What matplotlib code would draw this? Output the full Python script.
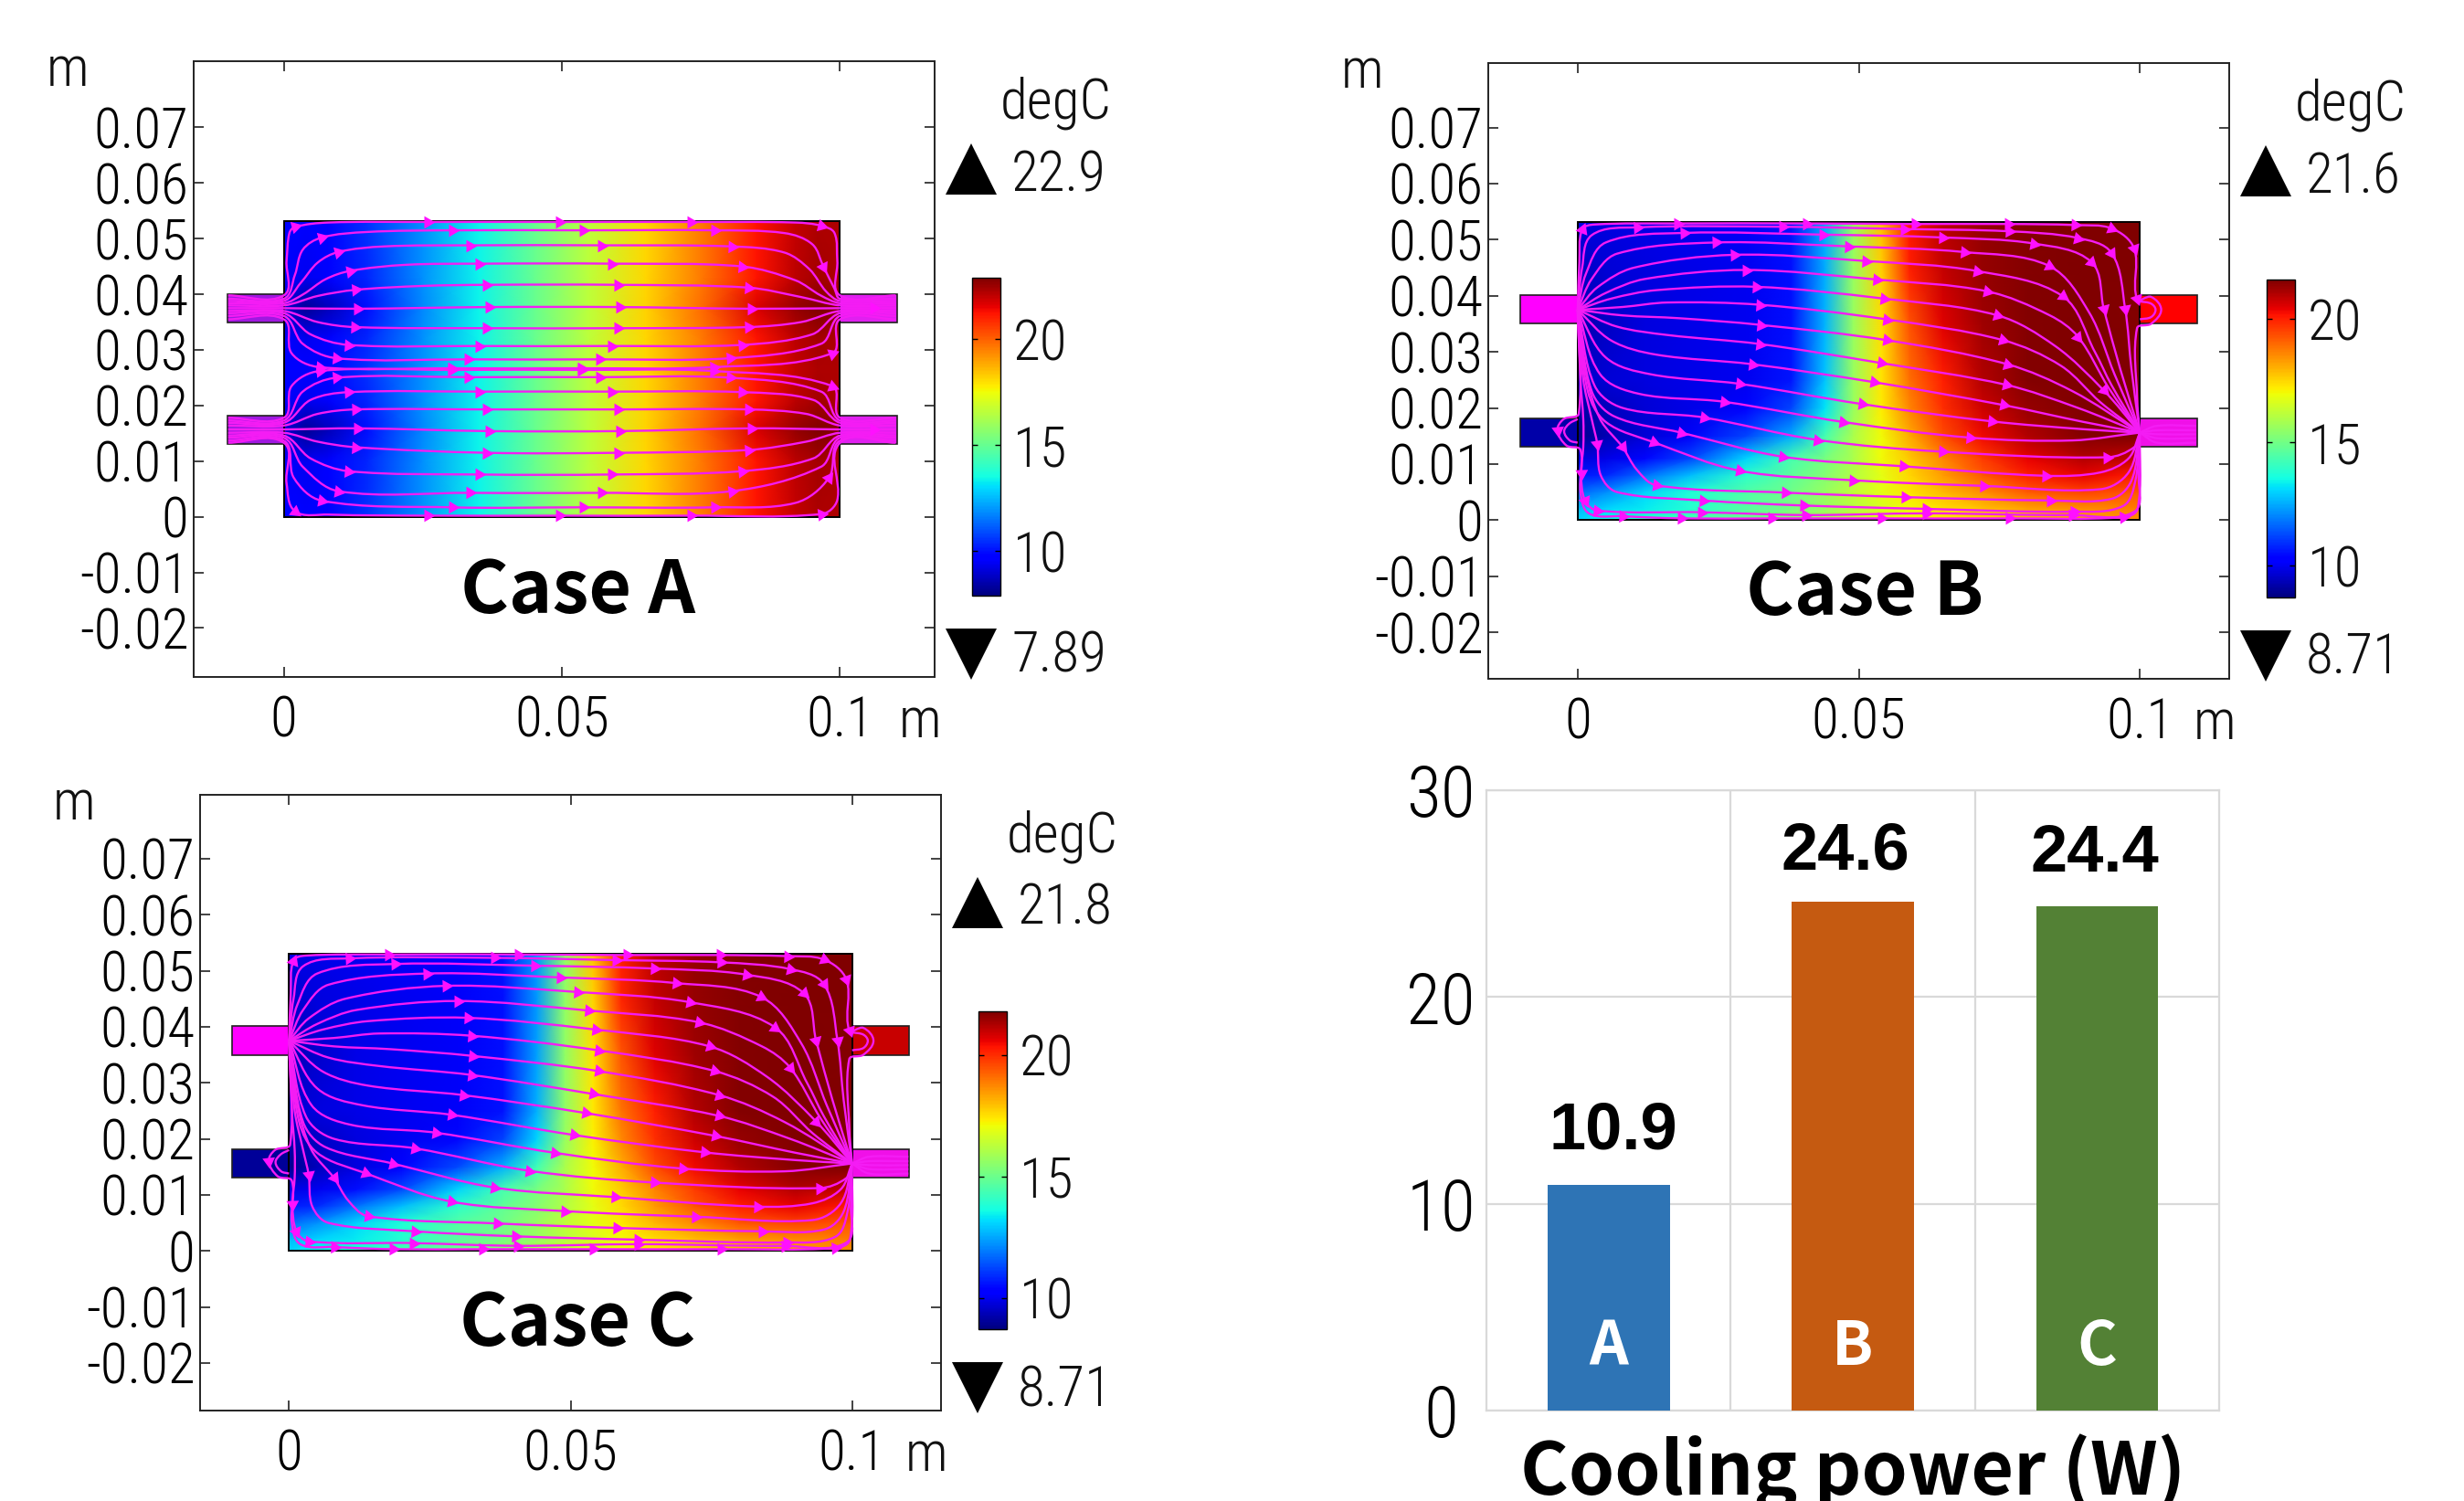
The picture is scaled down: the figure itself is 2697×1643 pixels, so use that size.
import numpy as np
import matplotlib
matplotlib.use('Agg')
import matplotlib.pyplot as plt
from matplotlib import font_manager
from matplotlib.path import Path
from matplotlib.patches import PathPatch, Rectangle

W, H = 2697, 1643
installed = {f.name for f in font_manager.fontManager.ttflist}
LIGHT = next(n for n in ['Roboto Condensed', 'Barlow Condensed', 'Lato', 'DejaVu Sans'] if n in installed)
LIGHT_FONT = dict(family=LIGHT, fontweight='light')
BOLD = 'Noto Sans CJK SC'
MAGENTA = '#f41cf4'

# temperature field, rows are y stations, columns x stations (mm, degC)
A_X = [0, 4, 8, 15, 25, 35, 45, 55, 65, 75, 85, 92, 96, 100]
A_Y = [0, 10, 15.5, 21, 26.5, 32, 37.5, 43, 53]
A_T = [
    [9.6, 9.6, 9.8, 10.5, 11.9, 13.4, 15.0, 16.6, 18.1, 19.6, 21.2, 22.0, 22.3, 22.3],
    [9.6, 9.4, 9.6, 10.3, 11.9, 13.4, 15.0, 16.6, 18.1, 19.6, 21.2, 22.1, 22.4, 22.3],
    [9.0, 8.2, 8.7, 10.0, 11.8, 13.4, 15.0, 16.6, 18.2, 19.8, 21.7, 22.6, 22.9, 22.8],
    [9.6, 9.4, 9.6, 10.3, 11.9, 13.4, 15.0, 16.6, 18.1, 19.6, 21.2, 22.1, 22.4, 22.3],
    [9.6, 9.6, 9.8, 10.5, 11.9, 13.4, 15.0, 16.6, 18.1, 19.6, 21.2, 22.0, 22.3, 22.3],
    [9.6, 9.4, 9.6, 10.3, 11.9, 13.4, 15.0, 16.6, 18.1, 19.6, 21.2, 22.1, 22.4, 22.3],
    [9.0, 8.2, 8.7, 10.0, 11.8, 13.4, 15.0, 16.6, 18.2, 19.8, 21.7, 22.6, 22.9, 22.8],
    [9.6, 9.4, 9.6, 10.3, 11.9, 13.4, 15.0, 16.6, 18.1, 19.6, 21.2, 22.1, 22.4, 22.3],
    [9.6, 9.6, 9.8, 10.5, 11.9, 13.4, 15.0, 16.6, 18.1, 19.6, 21.2, 22.0, 22.3, 22.3],
]

B_X = [0, 5, 12, 20, 30, 38, 44, 49, 54, 59, 65, 72, 80, 90, 100]
B_Y = [0, 2, 5, 8, 11, 15, 20, 25, 35, 45, 53]
B_T = [
    [13.0, 13.4, 13.9, 14.4, 15.0, 15.5, 15.9, 16.3, 16.7, 17.0, 17.3, 17.6, 18.0, 18.3, 18.5],
    [12.6, 13.0, 13.3, 13.8, 14.6, 15.1, 15.6, 16.1, 16.6, 17.0, 17.4, 17.8, 18.2, 18.5, 18.7],
    [11.6, 12.1, 13.0, 13.7, 14.5, 15.0, 15.6, 16.2, 16.8, 17.3, 17.9, 18.5, 19.2, 19.5, 19.2],
    [10.6, 10.8, 11.7, 12.7, 13.9, 14.7, 15.3, 16.0, 16.8, 17.5, 18.3, 19.2, 20.0, 20.4, 20.0],
    [9.8, 9.9, 10.4, 11.2, 13.0, 14.3, 15.1, 15.9, 17.0, 17.7, 18.6, 19.6, 20.4, 21.0, 20.8],
    [8.9, 9.3, 9.7, 10.1, 11.2, 12.5, 14.3, 15.9, 17.0, 18.1, 19.4, 20.3, 21.0, 21.5, 21.6],
    [9.2, 9.4, 9.7, 9.9, 10.3, 11.2, 13.2, 15.6, 17.2, 18.6, 19.8, 20.7, 21.3, 21.6, 21.6],
    [9.6, 9.7, 9.8, 9.9, 10.0, 10.6, 12.8, 15.6, 17.3, 18.9, 20.0, 21.0, 21.5, 21.6, 21.6],
    [9.2, 9.5, 9.8, 9.9, 10.0, 10.5, 12.6, 15.6, 17.4, 19.3, 20.5, 21.2, 21.5, 21.6, 21.5],
    [9.5, 9.7, 9.8, 9.9, 10.0, 10.5, 12.5, 15.6, 17.6, 20.0, 20.8, 21.3, 21.5, 21.6, 21.6],
    [9.8, 9.8, 9.9, 10.0, 10.1, 10.6, 12.5, 15.6, 17.8, 20.1, 20.9, 21.3, 21.5, 21.6, 21.6],
]
C_T = [
    [13.1, 13.5, 14.0, 14.5, 15.1, 15.6, 16.0, 16.4, 16.8, 17.1, 17.5, 17.8, 18.2, 18.5, 18.7],
    [12.7, 13.1, 13.4, 13.9, 14.7, 15.2, 15.7, 16.2, 16.7, 17.1, 17.6, 18.0, 18.4, 18.7, 18.9],
    [11.7, 12.2, 13.1, 13.8, 14.6, 15.1, 15.7, 16.3, 16.9, 17.4, 18.1, 18.7, 19.4, 19.7, 19.4],
    [10.7, 10.9, 11.8, 12.8, 14.0, 14.8, 15.4, 16.1, 16.9, 17.6, 18.5, 19.4, 20.2, 20.6, 20.2],
    [9.9, 10.0, 10.5, 11.3, 13.1, 14.4, 15.2, 16.0, 17.1, 17.8, 18.8, 19.8, 20.6, 21.2, 21.0],
    [8.9, 9.4, 9.8, 10.2, 11.3, 12.6, 14.3, 16.0, 17.1, 18.2, 19.6, 20.5, 21.2, 21.7, 21.8],
    [9.3, 9.5, 9.8, 10.0, 10.4, 11.2, 13.1, 15.7, 17.3, 18.7, 20.0, 20.9, 21.5, 21.8, 21.8],
    [9.7, 9.8, 9.9, 10.0, 10.1, 10.6, 12.6, 15.6, 17.4, 19.0, 20.2, 21.2, 21.7, 21.8, 21.8],
    [9.3, 9.6, 9.9, 10.0, 10.1, 10.5, 12.4, 15.6, 17.5, 19.4, 20.7, 21.4, 21.7, 21.8, 21.7],
    [9.6, 9.8, 9.9, 10.0, 10.1, 10.5, 12.3, 15.6, 17.7, 20.1, 21.0, 21.5, 21.7, 21.8, 21.8],
    [9.9, 9.9, 10.0, 10.1, 10.2, 10.6, 12.3, 15.6, 17.9, 20.2, 21.1, 21.5, 21.7, 21.8, 21.8],
]

# streamlines in mm, a third element marks an arrow
A_LINES = [
    [(-10, 39.8), (0, 39.8), (0.5, 46), (1, 51), (2, 52.1, 1), (8, 52.9), (25.9, 53, 1), (49.5, 53, 1), (73.2, 53, 1), (92, 52.9), (96.7, 52.3, 1), (99, 51), (99.5, 46), (100, 39.8), (110, 39.8)],
    [(-10, 39.2), (0, 39.2), (2, 43.5), (3.4, 48), (6.8, 50.2, 1), (15, 51.2), (30.2, 51.5, 1), (53.8, 51.5, 1), (77.4, 51.5, 1), (90, 51), (95, 49), (97, 45, 1), (99, 41), (100, 39.2), (110, 39.2)],
    [(-10, 38.8), (0, 38.8), (3, 42), (6.1, 45.7), (9.8, 47.6, 1), (18, 48.6), (33.4, 48.8, 1), (57, 48.8, 1), (80.5, 48.6, 1), (90, 47.5), (94.5, 44.5), (97.5, 40.5), (100, 38.8), (110, 38.8)],
    [(-10, 38.4), (0, 38.4), (3.5, 40), (7.5, 42.7), (11.9, 44.2, 1), (22, 45.3), (35.1, 45.5, 1), (58.9, 45.5, 1), (82.4, 45, 1), (92, 42.5), (96.5, 39.8), (100, 38.4), (110, 38.4)],
    [(-10, 38), (0, 38), (6.1, 39.7), (12.9, 40.8, 1), (25, 41.5), (36.4, 41.7, 1), (60, 41.7, 1), (83.5, 41.2, 1), (93, 39.5), (100, 38), (110, 38)],
    [(-10, 37.5), (0, 37.5), (13.2, 37.4, 1), (36.8, 37.7, 1), (60.4, 37.7, 1), (84, 37.4, 1), (100, 37.5), (106, 37.5, 1), (110, 37.5)],
    [(-10, 37), (0, 37), (6.1, 35), (12.7, 34.1, 1), (36.4, 33.9, 1), (60, 33.9, 1), (83.5, 34.1, 1), (93, 35), (100, 37), (110, 37)],
    [(-10, 36.6), (0, 36.6), (4.8, 32.8), (11.6, 30.9, 1), (35.1, 30.7, 1), (58.9, 30.7, 1), (82.4, 30.9, 1), (95, 32.8), (100, 36.6), (110, 36.6)],
    [(-10, 36.1), (0, 36.1), (3.4, 31.1), (9.5, 28.5, 1), (33.1, 28.3, 1), (56.7, 28.3, 1), (80.2, 28.5, 1), (96.6, 31.1), (100, 36.1), (110, 36.1)],
    [(-10, 35.5), (0, 35.5), (1.4, 29.4), (6.4, 26.9, 1), (30.1, 26.7, 1), (53.5, 26.7, 1), (77.2, 26.9, 1), (98.6, 29.4, 1), (100, 35.5), (110, 35.5)],
    [(-10, 17.8), (0, 17.8), (1.4, 23.5), (6.4, 26.2, 1), (30.1, 26.4, 1), (53.5, 26.4, 1), (77.2, 26.2, 1), (98.6, 23.5, 1), (100, 17.8), (110, 17.8)],
    [(-10, 17.3), (0, 17.3), (3.4, 22.5), (9.5, 25, 1), (33.1, 25.1, 1), (56.7, 25.1, 1), (80.2, 25, 1), (96.6, 22.5), (100, 17.3), (110, 17.3)],
    [(-10, 16.9), (0, 16.9), (4.8, 21), (11.6, 22.4, 1), (35.1, 22.5, 1), (58.9, 22.5, 1), (82.4, 22.4, 1), (95.2, 21), (100, 16.9), (110, 16.9)],
    [(-10, 16.4), (0, 16.4), (6.1, 18.5), (12.9, 19.3, 1), (36.4, 19.3, 1), (60, 19.3, 1), (83.5, 19.3, 1), (93.9, 18.5), (100, 16.4), (110, 16.4)],
    [(-10, 15.7), (0, 15.7), (13.2, 15.9, 1), (36.8, 15.4, 1), (60.4, 15.4, 1), (84, 15.9, 1), (100, 15.7), (106, 15.7, 1), (110, 15.7)],
    [(-10, 15.1), (0, 15.1), (6.1, 13.5), (12.9, 12.5, 1), (36.4, 11.5, 1), (60, 11.5, 1), (83.5, 12, 1), (93.9, 13.5), (100, 15.1), (110, 15.1)],
    [(-10, 14.6), (0, 14.6), (4.8, 10.5), (11.6, 8.2, 1), (35.1, 7.6, 1), (58.9, 7.6, 1), (82.4, 8.2, 1), (95.2, 10.5), (100, 14.6), (110, 14.6)],
    [(-10, 14.2), (0, 14.2), (3.4, 9), (9.8, 4.6, 1), (33.4, 4.3, 1), (57, 4.3, 1), (80.5, 4.6, 1), (96.6, 9), (100, 14.2), (110, 14.2)],
    [(-10, 13.7), (0, 13.7), (1.8, 7), (6.8, 2.9, 1), (30.2, 1.7, 1), (53.8, 1.7, 1), (77.4, 1.7, 1), (92, 2.5), (98, 7, 1), (100, 13.7), (110, 13.7)],
    [(-10, 13.3), (0, 13.3), (0.5, 6), (2, 1, 1), (8, 0.4), (25.9, 0.2, 1), (49.5, 0.2, 1), (73.2, 0.2, 1), (96.7, 0.5, 1), (99.5, 3), (100, 13.3), (110, 13.3)],
]

# cases B and C share nearly the same flow pattern
B_LINES = [
    [(0, 37.5), (0.3, 46), (0.8, 51.8, 1), (3, 52.7), (17.7, 52.9, 1), (40.6, 52.9, 1), (60, 52.8, 1), (76.5, 52.8, 1), (88.5, 52.6, 1), (95, 52, 1), (99, 48.4, 1), (99.5, 39.4, 1), (102, 39.8), (103.8, 37.5), (102, 35), (99.5, 34.2), (99.5, 22), (100, 15.6)],
    [(0, 37.5), (0.8, 45), (2.5, 50.8), (10.6, 52.2, 1), (36.5, 52.3, 1), (58, 51.9, 1), (76.7, 51.5, 1), (89, 50.3, 1), (95, 47.6, 1), (97.4, 37.6, 1), (98.5, 27), (100, 15.6)],
    [(0, 37.5), (1.5, 44), (5, 49.5), (18.8, 51.2, 1), (43.6, 50.9, 1), (64.8, 50.4, 1), (81.2, 49.3, 1), (91.4, 46, 1), (93.6, 37.6, 1), (96.5, 27), (100, 15.6)],
    [(0, 37.5), (2.5, 43), (7, 47.5), (24.5, 49.5, 1), (48.2, 48.8, 1), (68.7, 47.8, 1), (83.9, 45.3, 1), (91, 37), (95.5, 26), (100, 15.6)],
    [(0, 37.5), (3.5, 41.5), (10, 45), (27.8, 47.3, 1), (51.2, 46.2, 1), (71.1, 44.4, 1), (86.3, 39.9, 1), (92, 30), (95, 24), (100, 15.6)],
    [(0, 37.5), (5, 40.5), (12, 43), (30, 44.6, 1), (53.1, 42.9, 1), (72.8, 40.8, 1), (84, 36.5), (89, 32.7, 1), (94.5, 23.5), (100, 15.6)],
    [(0, 37.5), (6, 39.5), (14, 41), (31.7, 41.6, 1), (54.4, 39.5, 1), (74.7, 36.5, 1), (85, 31), (93.6, 23.1, 1), (100, 15.6)],
    [(0, 37.5), (8, 38), (16, 38.8), (32.4, 38.4, 1), (54.9, 35.8, 1), (75.6, 32.1, 1), (86, 27.5), (93, 21), (100, 15.6)],
    [(0, 37.5), (8, 36.5), (18, 36), (32.6, 34.8, 1), (54.9, 32.1, 1), (76.4, 27.8, 1), (88, 23), (100, 15.6)],
    [(0, 37.5), (7, 34.5), (16, 33), (32.4, 31.4, 1), (54, 28, 1), (76.3, 24.1, 1), (89, 20), (100, 15.6)],
    [(0, 37.5), (6, 32), (14, 29.5), (31, 27.8, 1), (52.7, 24.6, 1), (75.8, 20.5, 1), (90, 17.5), (100, 15.6)],
    [(0, 37.5), (5, 29), (13, 26), (28.8, 24.3, 1), (50.5, 20.7, 1), (73.7, 17.6, 1), (90, 16.2), (100, 15.6)],
    [(0, 37.5), (4, 26), (11, 22.5), (26, 21.1, 1), (47.2, 17.5, 1), (69.8, 14.7, 1), (88, 14.2), (100, 15.6)],
    [(0, 37.5), (3, 24), (8, 20), (22.4, 18.3, 1), (42.6, 14.3, 1), (64.8, 12.2, 1), (94.2, 11.2, 1), (99, 13), (100, 15.6)],
    [(0, 37.5), (2.5, 23), (6.5, 18.5), (18.4, 15.6, 1), (36.5, 11.3, 1), (57.9, 9.6, 1), (83.2, 7.9, 1), (93, 8.5), (98, 11), (100, 15.6)],
    [(0, 37.5), (1.8, 23), (5, 17.5), (13.5, 13.9, 1), (28.8, 8.8, 1), (49, 7.1, 1), (72.2, 6.1, 1), (93, 5.5), (98, 8.5), (100, 15.6)],
    [(0, 37.5), (1.5, 26), (4, 18), (8, 13, 1), (10.5, 9), (14, 6.2, 1), (36.9, 4.9, 1), (58.2, 4.1, 1), (84, 3.5, 1), (95, 3.8), (98.5, 7), (100, 15.6)],
    [(0, 37.5), (1, 25), (2.5, 18), (3.5, 13.5, 1), (4.1, 8), (7, 5), (22.3, 3.5, 1), (40.2, 2.6, 1), (62, 2, 1), (88.3, 1.5, 1), (97, 2.5), (99.2, 7), (100, 15.6)],
    [(0, 37.5), (0.5, 25), (1, 18), (1, 13), (0.6, 8.4, 1), (1.3, 3.5, 1), (3.5, 1.7, 1), (22, 1.4, 1), (40.5, 0.9, 1), (62, 1.2, 1), (88, 0.9, 1), (99, 1.5), (99.8, 8), (100, 15.6)],
    [(0, 37.5), (0.2, 19), (-2.5, 18), (-3.6, 16, 1), (-2, 13.3), (0.5, 12.5), (0.5, 5), (2, 1.2), (8, 0.7, 1), (18.4, 0.3, 1), (34.4, 0.3, 1), (54, 0.3, 1), (76.7, 0.3, 1), (97, 0.5, 1), (99.6, 2), (100, 15.6)],
    [(100, 39), (102, 38.6), (102.8, 37.5), (102, 36.2), (100, 35.8)],
    [(0, 18), (-1.5, 17.2), (-2.4, 15.8), (-1.4, 14.2), (0, 13.8)],
    [(100, 15.6), (103, 13.8), (110, 13.8)],
    [(100, 15.6), (103, 14.6), (110, 14.6)],
    [(100, 15.6), (103, 15.3), (110, 15.3)],
    [(100, 15.6), (103, 16), (110, 16)],
    [(100, 15.6), (103, 16.8), (110, 16.8)],
]

Y_TICKS = [-0.02, -0.01, 0, 0.01, 0.02, 0.03, 0.04, 0.05, 0.06, 0.07]
Y_TICK_LABELS = ['-0.02', '-0.01', '0', '0.01', '0.02', '0.03', '0.04', '0.05', '0.06', '0.07']
X_TICKS = [0, 0.05, 0.1]
X_TICK_LABELS = ['0', '0.05', '0.1']

CASE_NAMES = ['Case A', 'Case B', 'Case C']
CASE_NAME_DX = [15, 7, 8]
T_MAX = [22.9, 21.6, 21.8]
T_MIN = [7.89, 8.71, 8.71]
CBAR_TICKS = [10, 15, 20]

# channel fills: top left, bottom left, top right, bottom right
A_CHANNELS = ['#a018e0', '#a018e0', '#e020f0', '#e020f0']
B_CHANNELS = ['#ff00ff', '#0000a8', '#ff0000', '#f010e8']
C_CHANNELS = ['#ff00ff', '#000098', '#c80000', '#f010e8']

BAR_NAMES = ['A', 'B', 'C']
COOLING_POWER = [10.9, 24.6, 24.4]
BAR_COLORS = ['#2e74b5', '#c55a11', '#538135']


def px_axes(fig, left, top, width, height):
    return fig.add_axes([left / W, 1 - (top + height) / H, width / W, height / H])


def px_text(fig, x, y, s, **kw):
    return fig.text(x / W, 1 - y / H, s, **kw)


def smooth_path(pts):
    # bezier through the read points, tangents from the neighbours
    pts = np.array(pts, dtype=float)
    n = len(pts)
    tang = np.zeros_like(pts)
    for i in range(n):
        d = pts[min(i + 1, n - 1)] - pts[max(i - 1, 0)]
        tang[i] = d / max(np.hypot(*d), 1e-9)
    verts = [pts[0]]
    codes = [Path.MOVETO]
    for i in range(n - 1):
        seg = np.hypot(*(pts[i + 1] - pts[i])) / 3
        verts += [pts[i] + tang[i] * seg, pts[i + 1] - tang[i + 1] * seg, pts[i + 1]]
        codes += [Path.CURVE4] * 3
    return Path(verts, codes), tang


def draw_lines(ax, lines):
    for line in lines:
        pts = [(p[0] / 1000, p[1] / 1000) for p in line]
        path, tang = smooth_path(pts)
        ax.add_patch(PathPatch(path, fc='none', ec=MAGENTA, lw=1.7, zorder=4))
        for i, p in enumerate(line):
            if len(p) == 3:
                heading = np.degrees(np.arctan2(tang[i][1], tang[i][0]))
                ax.plot(pts[i][0], pts[i][1], marker=(3, 0, heading - 90), ms=11.5,
                        color='#ff10ff', mew=0, zorder=5)


def draw_case(fig, left, top, xlim, ylim, x_mm, y_mm, temps, lines, channels, idx):
    ax = px_axes(fig, left, top, 811, 674)
    ax.set_xlim(xlim)
    ax.set_ylim(ylim)

    norm = plt.Normalize(T_MIN[idx], T_MAX[idx])
    xg, yg = np.meshgrid(np.array(x_mm) / 1000, np.array(y_mm) / 1000)
    mesh = ax.pcolormesh(xg, yg, np.array(temps), cmap='jet', norm=norm, shading='gouraud', zorder=1)

    ax.add_patch(Rectangle((0, 0), 0.1, 0.0531, fc='none', ec='black', lw=1.4, zorder=3))
    corners = [(-0.0102, 0.035), (-0.0102, 0.013), (0.1, 0.035), (0.1, 0.013)]
    for (cx, cy), col in zip(corners, channels):
        ax.add_patch(Rectangle((cx, cy), 0.0102, 0.0051, fc=col, ec='#202020', lw=1.2, zorder=2))

    draw_lines(ax, lines)

    ax.set_xticks(X_TICKS)
    ax.set_xticklabels(X_TICK_LABELS, fontsize=44, **LIGHT_FONT)
    ax.set_yticks(Y_TICKS)
    ax.set_yticklabels(Y_TICK_LABELS, fontsize=44, **LIGHT_FONT)
    ax.tick_params(direction='in', top=True, right=True, length=8, width=1.2, color='#222222')
    ax.tick_params(axis='x', pad=14)
    ax.tick_params(axis='y', pad=4)
    for s in ax.spines.values():
        s.set_linewidth(1.4)
        s.set_color('#222222')

    px_text(fig, left + 405 + CASE_NAME_DX[idx], top + 580, CASE_NAMES[idx], family=BOLD, fontweight='bold',
            fontsize=58, ha='center', va='center')

    # min/max legend and colour bar on the right
    txt = dict(fontsize=44, color='#111111', va='center', **LIGHT_FONT)
    px_text(fig, left + 944, top + 46, 'degC', ha='center', **txt)
    px_text(fig, left + 895, top + 125, '%g' % T_MAX[idx], ha='left', **txt)
    px_text(fig, left + 895, top + 652, '%g' % T_MIN[idx], ha='left', **txt)
    px_text(fig, left - 138, top + 10, 'm', ha='center', **txt)
    px_text(fig, left + 795, top + 723, 'm', ha='center', **txt)
    fig.add_artist(plt.Line2D([(left + 851) / W], [1 - (top + 118) / H], marker='^', ms=40, color='black',
                              mew=0, transform=fig.transFigure))
    fig.add_artist(plt.Line2D([(left + 851) / W], [1 - (top + 649) / H], marker='v', ms=40, color='black',
                              mew=0, transform=fig.transFigure))

    cax = px_axes(fig, left + 852, top + 237, 31, 348)
    cbar = fig.colorbar(mesh, cax=cax, ticks=CBAR_TICKS)
    cbar.outline.set_linewidth(1)
    cax.set_yticklabels([str(t) for t in CBAR_TICKS], fontsize=44, color='#111111', **LIGHT_FONT)
    cax.tick_params(direction='in', left=True, right=True, length=4, width=1, pad=10)
    return ax


fig = plt.figure(figsize=(W / 100, H / 100), dpi=100, facecolor='white')

draw_case(fig, 212, 67, (-0.0162, 0.117), (-0.0288, 0.0819), A_X, A_Y, A_T, A_LINES, A_CHANNELS, 0)
draw_case(fig, 1629, 69, (-0.0159, 0.1159), (-0.0283, 0.0815), B_X, B_Y, B_T, B_LINES, B_CHANNELS, 1)
draw_case(fig, 219, 870, (-0.0158, 0.1158), (-0.0285, 0.0814), B_X, B_Y, C_T, B_LINES, C_CHANNELS, 2)

# cooling power bars
ax = px_axes(fig, 1627, 865, 802, 679)
ax.bar(range(3), COOLING_POWER, width=0.5, color=BAR_COLORS, zorder=3)
ax.set_xlim(-0.5, 2.5)
ax.set_ylim(0, 30)
ax.set_xticks([0.5, 1.5])
ax.set_xticklabels([])
ax.set_yticks([0, 10, 20, 30])
ax.set_yticklabels(['0', '10', '20', '30'], fontsize=56, ha='center', **LIGHT_FONT)
ax.tick_params(length=0)
ax.tick_params(axis='y', pad=36)
ax.grid(True, color='#d9d9d9', lw=1.6)
ax.set_axisbelow(True)
for s in ax.spines.values():
    s.set_color('#d9d9d9')
    s.set_linewidth(1.6)

label_dx = [5, -8, -2]
label_dy = [29, 26, 27]
for i, v in enumerate(COOLING_POWER):
    ax.annotate('%.1f' % v, (i, v), xytext=(label_dx[i] / 1.39, label_dy[i]), textcoords='offset points',
                ha='center', va='baseline', family='Liberation Sans', fontweight='bold', fontsize=52)
    ax.text(i, 2.2, BAR_NAMES[i], color='white', ha='center', va='baseline', family=BOLD, fontweight='bold',
            fontsize=48, zorder=4)

px_text(fig, 2028, 1636, 'Cooling power (W)', family=BOLD, fontweight='bold', fontsize=58,
        ha='center', va='baseline')

fig.savefig('out.png', dpi=100)
